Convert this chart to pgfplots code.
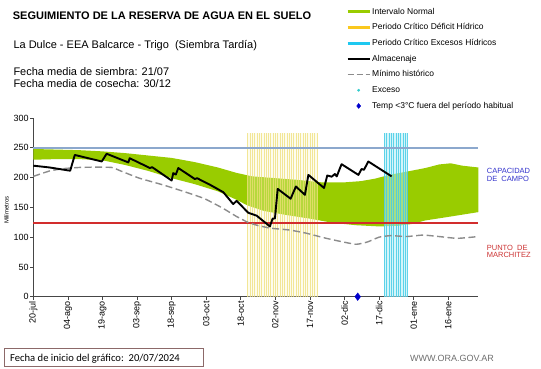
\documentclass[border=0pt]{standalone}
\usepackage{fontspec}
\setmainfont{Liberation Sans}
\newfontfamily\carlito{Carlito}
\usepackage{pgfplots}
\pgfplotsset{compat=1.18}
\definecolor{bandgreen}{RGB}{153,204,0}
\definecolor{yelfill}{RGB}{250,246,200}
\definecolor{yelline}{RGB}{238,224,120}
\definecolor{yelleg}{RGB}{250,200,30}
\definecolor{cyfill}{RGB}{175,236,246}
\definecolor{cyline}{RGB}{70,205,230}
\definecolor{cyleg}{RGB}{30,200,240}
\definecolor{capcol}{RGB}{140,168,205}
\definecolor{wiltcol}{RGB}{210,45,45}
\definecolor{mingray}{RGB}{140,140,140}
\definecolor{diamblue}{RGB}{0,0,204}
\definecolor{dotcyan}{RGB}{51,204,204}
\definecolor{capblue}{RGB}{51,51,204}
\definecolor{pmred}{RGB}{204,51,51}
\definecolor{axgray}{RGB}{70,70,70}
\definecolor{boxbrown}{RGB}{140,105,105}
\definecolor{urlgray}{RGB}{110,110,110}
\begin{document}
\begin{tikzpicture}
\path[use as bounding box] (0,0) rectangle (541pt,-368pt);
% titles
\node[anchor=base west, inner sep=0pt, font=\fontsize{11}{13}\selectfont\bfseries] at (12.7pt,-19.3pt) {SEGUIMIENTO DE LA RESERVA DE AGUA EN EL SUELO};
\node[anchor=base west, inner sep=0pt, font=\fontsize{11}{13}\selectfont] at (13.3pt,-48.3pt) {La Dulce - EEA Balcarce - Trigo\ \ (Siembra Tardía)};
\node[anchor=base west, inner sep=0pt, font=\fontsize{11}{13}\selectfont] at (13.3pt,-75pt) {Fecha media de siembra: 21/07};
\node[anchor=base west, inner sep=0pt, font=\fontsize{11}{13}\selectfont] at (13.3pt,-87.3pt) {Fecha media de cosecha: 30/12};
% right labels
\node[anchor=base west, inner sep=0pt, text=capblue, font=\fontsize{7.5}{9}\selectfont] at (486.7pt,-173.3pt) {CAPACIDAD};
\node[anchor=base west, inner sep=0pt, text=capblue, font=\fontsize{7.5}{9}\selectfont] at (486.7pt,-181pt) {DE\ \ CAMPO};
\node[anchor=base west, inner sep=0pt, text=pmred, font=\fontsize{7.5}{9}\selectfont] at (486.7pt,-250pt) {PUNTO\ \ DE};
\node[anchor=base west, inner sep=0pt, text=pmred, font=\fontsize{7.5}{9}\selectfont] at (486.7pt,-257.7pt) {MARCHITEZ};
% y label
\node[rotate=90, inner sep=0pt, font=\fontsize{6}{7}\selectfont] at (6.5pt,-210pt) {Milímetros};
% bottom box
\draw[boxbrown, line width=0.8pt] (4pt,-348.3pt) rectangle (203.3pt,-366.7pt);
\node[anchor=base west, inner sep=0pt, font=\carlito\fontsize{10.6}{12}\selectfont] at (10pt,-361.5pt) {Fecha de inicio del gráfico:\ \ 20/07/2024};
\node[anchor=base west, inner sep=0pt, text=urlgray, font=\fontsize{9}{11}\selectfont] at (410pt,-361.5pt) {WWW.ORA.GOV.AR};
\begin{axis}[
  at={(33.3pt,-296.7pt)}, anchor=south west,
  scale only axis, width=445pt, height=178.7pt,
  xmin=0, xmax=193, ymin=0, ymax=300,
  clip=false,
  axis x line*=bottom, axis y line*=left,
  axis line style={-, draw=axgray, line width=0.8pt},
  tick style={draw=axgray, line width=0.7pt},
  tick align=outside, major tick length=3pt,
  xtick={0,15,30,45,60,75,90,105,120,135,150,165,180},
  xticklabels={20-jul,04-ago,19-ago,03-sep,18-sep,03-oct,18-oct,02-nov,17-nov,02-dic,17-dic,01-ene,16-ene},
  xticklabel style={rotate=90, anchor=east, font=\fontsize{9}{10}\selectfont, inner sep=1.5pt},
  ytick={0,50,100,150,200,250,300},
  yticklabel style={font=\fontsize{9}{10}\selectfont, inner sep=1.5pt},
  /pgf/number format/assume math mode=true,
  legend style={at={(0.7027,1.6206)}, anchor=north west, draw=none, fill=none,
    inner sep=0pt, row sep=6.8pt, column sep=0.5pt,
    font=\fontsize{8.5}{10}\selectfont,
    nodes={inner sep=0.5pt, text height=6.2pt, text depth=1.7pt}},
  legend cell align=left,
]
% legend images
\addlegendimage{legend image code/.code={\draw[bandgreen, line width=3pt] (0pt,0pt) -- (22pt,0pt);}}
\addlegendentry{Intervalo Normal}
\addlegendimage{legend image code/.code={\draw[yelleg, line width=3pt] (0pt,0pt) -- (22pt,0pt);}}
\addlegendentry{Periodo Crítico Déficit Hídrico}
\addlegendimage{legend image code/.code={\draw[cyleg, line width=3pt] (0pt,0pt) -- (22pt,0pt);}}
\addlegendentry{Periodo Crítico Excesos Hídricos}
\addlegendimage{legend image code/.code={\draw[black, line width=2pt] (0pt,0pt) -- (22pt,0pt);}}
\addlegendentry{Almacenaje}
\addlegendimage{legend image code/.code={\draw[mingray, line width=1.5pt, dash pattern=on 6pt off 3pt] (0pt,0pt) -- (22pt,0pt);}}
\addlegendentry{Mínimo histórico}
\addlegendimage{legend image code/.code={\fill[dotcyan] (11pt,0pt) circle (1.2pt);}}
\addlegendentry{Exceso}
\addlegendimage{legend image code/.code={\fill[diamblue] (11pt,2.5pt) -- (13pt,0pt) -- (11pt,-2.5pt) -- (9pt,0pt) -- cycle;}}
\addlegendentry{Temp <3°C fuera del período habitual}
% green band
\addplot[fill=bandgreen, draw=none, forget plot] coordinates {
(0,248) (10,247) (20,246) (30,244) (40,241) (50,237) (60,233) (70,226) (80,217) (88,208) (95,202) (105,199) (115,196) (125,192) (135,192) (142,194) (148,198) (155,205) (162,210) (170,216) (176,222) (181,224) (186,220) (193,217)
(193,142) (180,134) (170,128) (164,122) (158,119) (150,118) (140,120) (130,124) (120,131) (110,137) (100,144) (93,153) (88,163) (80,177) (70,189) (60,199) (50,211) (40,221) (30,229) (20,231) (10,231) (0,230)
} -- cycle;
% yellow critical period
\addplot[fill=yelfill, fill opacity=0.3, draw=none, forget plot] coordinates {(92.8,274) (123.3,274)} \closedcycle;
\addplot[ycomb, draw=yelline, draw opacity=0.75, line width=0.7pt, no marks, forget plot] coordinates {
(93,274) (94,274) (95,274) (96,274) (97,274) (98,274) (99,274) (100,274) (101,274) (102,274) (103,274) (104,274) (105,274) (106,274) (107,274) (108,274) (109,274) (110,274) (111,274) (112,274) (113,274) (114,274) (115,274) (116,274) (117,274) (118,274) (119,274) (120,274) (121,274) (122,274) (123,274)};
% cyan critical period
\addplot[fill=cyfill, fill opacity=0.55, draw=none, forget plot] coordinates {(152.1,274) (162.2,274)} \closedcycle;
\addplot[ycomb, draw=cyline, draw opacity=0.85, line width=0.8pt, no marks, forget plot] coordinates {
(152.3,274) (153.3,274) (154.3,274) (155.3,274) (156.3,274) (157.3,274) (158.3,274) (159.3,274) (160.3,274) (161.3,274) (162.1,274)};
% field capacity and wilting point
\addplot[draw=capcol, line width=1.6pt, mark=none, forget plot] coordinates {(0,250) (193,250)};
\addplot[draw=wiltcol, line width=1.6pt, mark=none, forget plot] coordinates {(0,123.4) (193,123.4)};
% historical minimum
\addplot[draw=mingray, line width=1.4pt, dash pattern=on 7pt off 3.5pt, mark=none, smooth, tension=0.3, forget plot] coordinates {
(0,202) (7,211) (13,215) (20,217) (27,217.5) (34,217) (38,211) (46,199) (56,188) (65,177) (74,165) (82,149) (88,135) (93,125) (97,120) (103,115) (111,112) (118,107) (126,99) (133,93) (140,88) (145,92) (150,100) (155,102.5) (162,101) (169,103.5) (176,101) (184,98) (193,101)};
% storage
\addplot[draw=black, line width=1.9pt, mark=none, line join=round, forget plot] coordinates {
(0,220) (7,217) (16,211.5) (18,238) (29.7,227) (31.8,240) (41.2,225.5) (41.8,232.5) (50.6,216) (51.5,217.5) (52.5,215) (60,195) (60.7,207.5) (61.8,205) (62.9,216) (70.1,197.5) (71,199) (76.6,188) (82.4,175.5) (86.7,155.5) (88.2,161) (93.2,141) (96.9,136) (102.6,118) (103.8,131) (104.8,131.5) (106,181) (111.6,164.5) (113.9,185) (117.8,171) (119.3,204.5) (126.1,182.5) (127.5,203.5) (129.4,201.5) (130.8,206) (131.6,202) (133.7,222.5) (141,204.5) (142.4,214.5) (143.4,213) (145.3,227) (155.4,202)};
% frost mark
\addplot[only marks, mark=diamond*, mark size=3.8pt, mark options={fill=diamblue, draw=diamblue}, forget plot] coordinates {(140.7,0)};
\end{axis}
\end{tikzpicture}
\end{document}
